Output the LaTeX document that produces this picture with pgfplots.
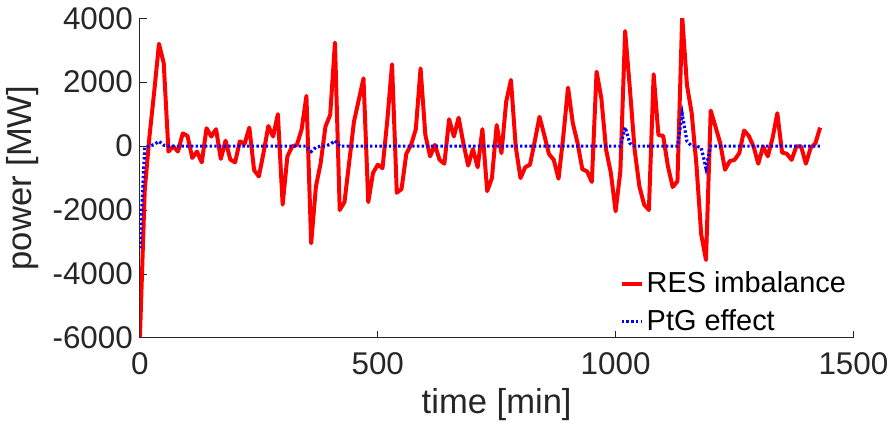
\documentclass[border=0pt]{standalone}
\usepackage{fontspec}
\setmainfont{Liberation Sans}
\usepackage{pgfplots}
\pgfplotsset{compat=1.18}
\usepackage{pgfplotstable}

% RES imbalance and power-to-gas effect, sampled every 10 minutes
\pgfplotstableread{
t res ptg
0 -5980 -3200
10 -1400 -50
20 300 0
30 1700 50
40 3200 150
50 2600 30
60 -170 0
70 -10 0
80 -170 0
90 400 0
100 320 0
110 -370 0
120 -170 0
130 -510 0
140 560 0
150 300 0
160 530 0
170 -400 0
180 170 0
190 -420 0
200 -510 0
210 150 0
220 70 0
230 580 0
240 -750 0
250 -950 0
260 -200 0
270 630 0
280 300 0
290 1000 0
300 -1830 0
310 -320 0
320 -10 0
330 40 0
340 530 0
350 1570 0
360 -3040 -170
370 -1260 -40
380 -530 0
390 610 0
400 980 60
410 3240 170
420 -2000 0
430 -1750 0
440 -500 0
450 770 0
460 1440 0
470 2120 0
480 -1750 0
490 -840 0
500 -580 0
510 -690 0
520 800 0
530 2560 0
540 -1460 0
550 -1340 0
560 -240 0
570 40 0
580 530 0
590 2430 0
600 350 0
610 -320 0
620 40 0
630 -430 0
640 -550 0
650 840 0
660 300 0
670 890 0
680 90 0
690 -610 0
700 -90 0
710 -660 0
720 530 0
730 -1410 0
740 -1000 0
750 660 0
760 -220 0
770 1390 0
780 2070 0
790 -10 0
800 -1000 0
810 -660 0
820 -580 0
830 150 0
840 920 0
850 350 0
860 -250 0
870 -430 0
880 -1020 0
890 300 0
900 1830 0
910 720 0
920 100 0
930 -720 0
940 -790 0
950 -1120 0
960 2330 0
970 1500 0
980 -110 0
990 -840 0
1000 -2040 0
1010 -790 0
1020 3600 590
1030 1800 90
1040 -110 0
1050 -1260 0
1060 -1830 0
1070 -2000 0
1080 2250 0
1090 350 0
1100 320 0
1110 -630 0
1120 -1280 0
1130 -1100 0
1140 4060 1010
1150 1910 150
1160 1030 0
1170 -600 0
1180 -2760 -50
1190 -3560 -690
1200 1110 0
1210 610 0
1220 90 0
1230 -740 0
1240 -470 0
1250 -430 0
1260 -220 0
1270 490 0
1280 320 0
1290 -10 0
1300 -550 0
1310 -10 0
1320 -320 0
1330 250 0
1340 1030 0
1350 -200 0
1360 -240 0
1370 -430 0
1380 -10 0
1390 -10 0
1400 -550 0
1410 -60 0
1420 90 0
1430 580 0
}\powertable

\definecolor{axisgray}{gray}{0.15}

\begin{document}
\begin{tikzpicture}
\begin{axis}[
  name=ax,
  scale only axis,
  width=357.85pt, height=160.35pt,
  xmin=0, xmax=1500, ymin=-6000, ymax=4000,
  xtick={0,500,1000,1500},
  ytick={-6000,-4000,-2000,0,2000,4000},
  axis x line*=bottom, axis y line*=left,
  axis line style={color=axisgray, line width=0.5pt, -},
  tick align=inside,
  major tick length=3.5pt,
  tick style={color=axisgray, line width=0.5pt},
  scaled ticks=false,
  /pgf/number format/1000 sep={},
  /pgf/number format/assume math mode=true,
  tick label style={font=\fontsize{15.75}{18}\selectfont, text=axisgray},
  xticklabel style={yshift=-4pt},
  label style={font=\fontsize{17.35}{20}\selectfont, text=axisgray},
  xlabel={time [min]},
  ylabel={power [MW]},
  legend style={draw=none, fill=none, font=\fontsize{14.5}{17}\selectfont,
    at={(rel axis cs:0.672,0.214)}, anchor=north west,
    row sep=5pt, inner sep=0pt,
    nodes={inner xsep=1.5pt, inner ysep=1pt}},
  legend cell align=left,
  legend image code/.code={\draw[#1] (0pt,0pt) -- (10pt,0pt);},
]
\addplot[red, line width=2pt, line join=round] table[x=t, y=res] {\powertable};
\addlegendentry{RES imbalance}
\addplot[blue, line width=1.6pt, dash pattern=on 1.2pt off 1.15pt] table[x=t, y=ptg] {\powertable};
\addlegendentry{PtG effect}
\end{axis}
\path ([shift={(-69.65pt,-50pt)}]ax.south west) rectangle ([shift={(377.85pt,169.5pt)}]ax.south west);
\end{tikzpicture}
\end{document}
